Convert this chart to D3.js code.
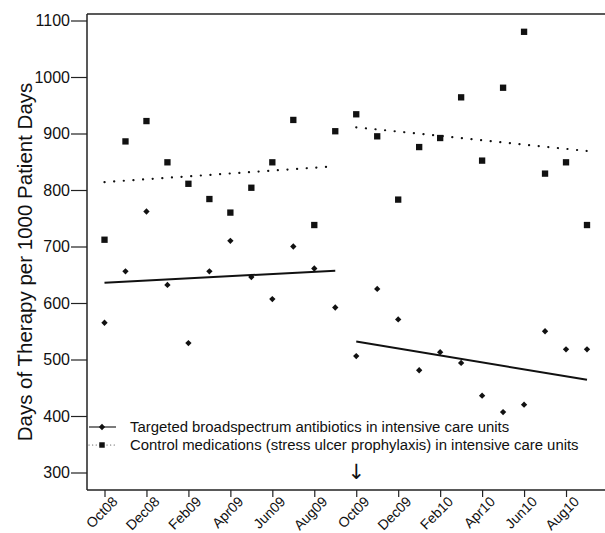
<!DOCTYPE html>
<html>
<head>
<meta charset="utf-8">
<script src="https://cdn.jsdelivr.net/npm/d3@7"></script>
<style>
  html, body { margin: 0; padding: 0; background: #fff; }
  svg { display: block; }
  text { font-family: "Liberation Sans", Arial, sans-serif; fill: #111; }
</style>
</head>
<body>
<svg id="chart" width="605" height="533"></svg>
<script>
// ---- data ----
const months = ["Oct08","Nov08","Dec08","Jan09","Feb09","Mar09","Apr09","May09","Jun09","Jul09","Aug09","Sep09",
                "Oct09","Nov09","Dec09","Jan10","Feb10","Mar10","Apr10","May10","Jun10","Jul10","Aug10","Sep10"];
const tickLabels = ["Oct08","Dec08","Feb09","Apr09","Jun09","Aug09","Oct09","Dec09","Feb10","Apr10","Jun10","Aug10"];
const antibiotics = [565, 656, 762, 632, 529, 656, 710, 646, 607, 700, 661, 592,
                     506, 625, 571, 481, 513, 494, 436, 407, 420, 550, 518, 518];
const control = [712, 886, 922, 849, 811, 784, 760, 804, 849, 924, 738, 904,
                 934, 895, 783, 876, 892, 964, 852, 981, 1080, 829, 849, 738];
// fitted trend segments (start month, end month, start value, end value)
const antibioticTrend = [["Oct08","Sep09",636,657], ["Oct09","Sep10",532,464]];
const controlTrend = [["Oct08","Sep09",814,842], ["Oct09","Sep10",911,869]];
const yTicks = [300,400,500,600,700,800,900,1000,1100];
const legendLabels = ["Targeted broadspectrum antibiotics in intensive care units",
                      "Control medications (stress ulcer prophylaxis) in intensive care units"];
const interventionMonth = "Oct09";

// ---- layout ----
const svg = d3.select("#chart");
const fLeft = 87, fTop = 14, fBottom = 490, fRight = 605;

const x = d3.scalePoint().domain(months).range([104.5, 587]);
const y = d3.scaleLinear().domain([300, 1100]).range([472.5, 20.5]);

// frame
svg.append("line").attr("x1", fLeft).attr("x2", fRight).attr("y1", fTop).attr("y2", fTop)
  .attr("stroke", "#222").attr("stroke-width", 1.5);

// y axis
const yAxis = svg.append("g").attr("transform", `translate(${fLeft},0)`)
  .call(d3.axisLeft(y).tickValues(yTicks).tickFormat(d3.format("d")).tickSize(16).tickPadding(1).tickSizeOuter(0));
yAxis.select(".domain").attr("d", `M0,${fTop}V${fBottom}`).attr("stroke", "#222").attr("stroke-width", 1.5);
yAxis.selectAll(".tick line").attr("stroke", "#222").attr("stroke-width", 1.2);
yAxis.selectAll(".tick text").style("font-size", "16px").style("font-family", "Liberation Sans, Arial, sans-serif").attr("fill", "#111");

// x axis
const xAxis = svg.append("g").attr("transform", `translate(0,${fBottom})`)
  .call(d3.axisBottom(x).tickValues(tickLabels).tickSize(7).tickSizeOuter(0));
xAxis.select(".domain").attr("d", `M${fLeft},0H${fRight}`).attr("stroke", "#222").attr("stroke-width", 1.5);
xAxis.selectAll(".tick line").attr("stroke", "#222").attr("stroke-width", 1.2);
xAxis.selectAll(".tick text")
  .style("font-size", "14px").style("font-family", "Liberation Sans, Arial, sans-serif").attr("fill", "#111")
  .attr("text-anchor", "end")
  .attr("dy", "0.35em")
  .attr("transform", "translate(10,9) rotate(-45)")
  .attr("x", 0).attr("y", 0);

// y title
svg.append("text")
  .attr("transform", "translate(32,262) rotate(-90)")
  .attr("text-anchor", "middle")
  .style("font-size", "20.5px")
  .text("Days of Therapy per 1000 Patient Days");

// trend lines
const plot = svg.append("g");
plot.selectAll("line.abt").data(antibioticTrend).enter().append("line")
  .attr("x1", d => x(d[0])).attr("x2", d => x(d[1]))
  .attr("y1", d => y(d[2])).attr("y2", d => y(d[3]))
  .attr("stroke", "#111").attr("stroke-width", 2);
plot.selectAll("line.ctl").data(controlTrend).enter().append("line")
  .attr("x1", d => x(d[0])).attr("x2", d => x(d[1]))
  .attr("y1", d => y(d[2])).attr("y2", d => y(d[3]))
  .attr("stroke", "#111").attr("stroke-width", 2.2)
  .attr("stroke-linecap", "round").attr("stroke-dasharray", "0.1,9.55");

// markers
const sq = d3.symbol().type(d3.symbolSquare).size(40);
const dm = d3.symbol().type(d3.symbolSquare).size(20);
plot.selectAll("path.ctl").data(control).enter().append("path")
  .attr("d", sq)
  .attr("transform", (d, i) => `translate(${x(months[i])},${y(d)})`)
  .attr("fill", "#111");
plot.selectAll("path.abt").data(antibiotics).enter().append("path")
  .attr("d", dm)
  .attr("transform", (d, i) => `translate(${x(months[i])},${y(d)}) rotate(45)`)
  .attr("fill", "#111");

// legend
const lg = svg.append("g");
const rowY = [427, 445];
lg.append("line").attr("x1", 89).attr("x2", 116).attr("y1", rowY[0]).attr("y2", rowY[0])
  .attr("stroke", "#333").attr("stroke-width", 1.3);
lg.append("path").attr("d", dm).attr("transform", `translate(102,${rowY[0]}) rotate(45)`).attr("fill", "#111");
lg.append("line").attr("x1", 89).attr("x2", 116).attr("y1", rowY[1]).attr("y2", rowY[1])
  .attr("stroke", "#555").attr("stroke-width", 1.2).attr("stroke-linecap", "round").attr("stroke-dasharray", "0.1,3.5");
lg.append("path").attr("d", d3.symbol().type(d3.symbolSquare).size(30)).attr("transform", `translate(102,${rowY[1]})`).attr("fill", "#111");
lg.selectAll("text").data(legendLabels).enter().append("text")
  .attr("x", 130).attr("y", (d, i) => rowY[i] + 5)
  .style("font-size", "14.9px")
  .text(d => d);

// intervention arrow
svg.append("text")
  .attr("x", x(interventionMonth)).attr("y", 479)
  .attr("text-anchor", "middle")
  .style("font-family", "DejaVu Sans, sans-serif")
  .style("font-size", "21px")
  .text("↓");
</script>
</body>
</html>
